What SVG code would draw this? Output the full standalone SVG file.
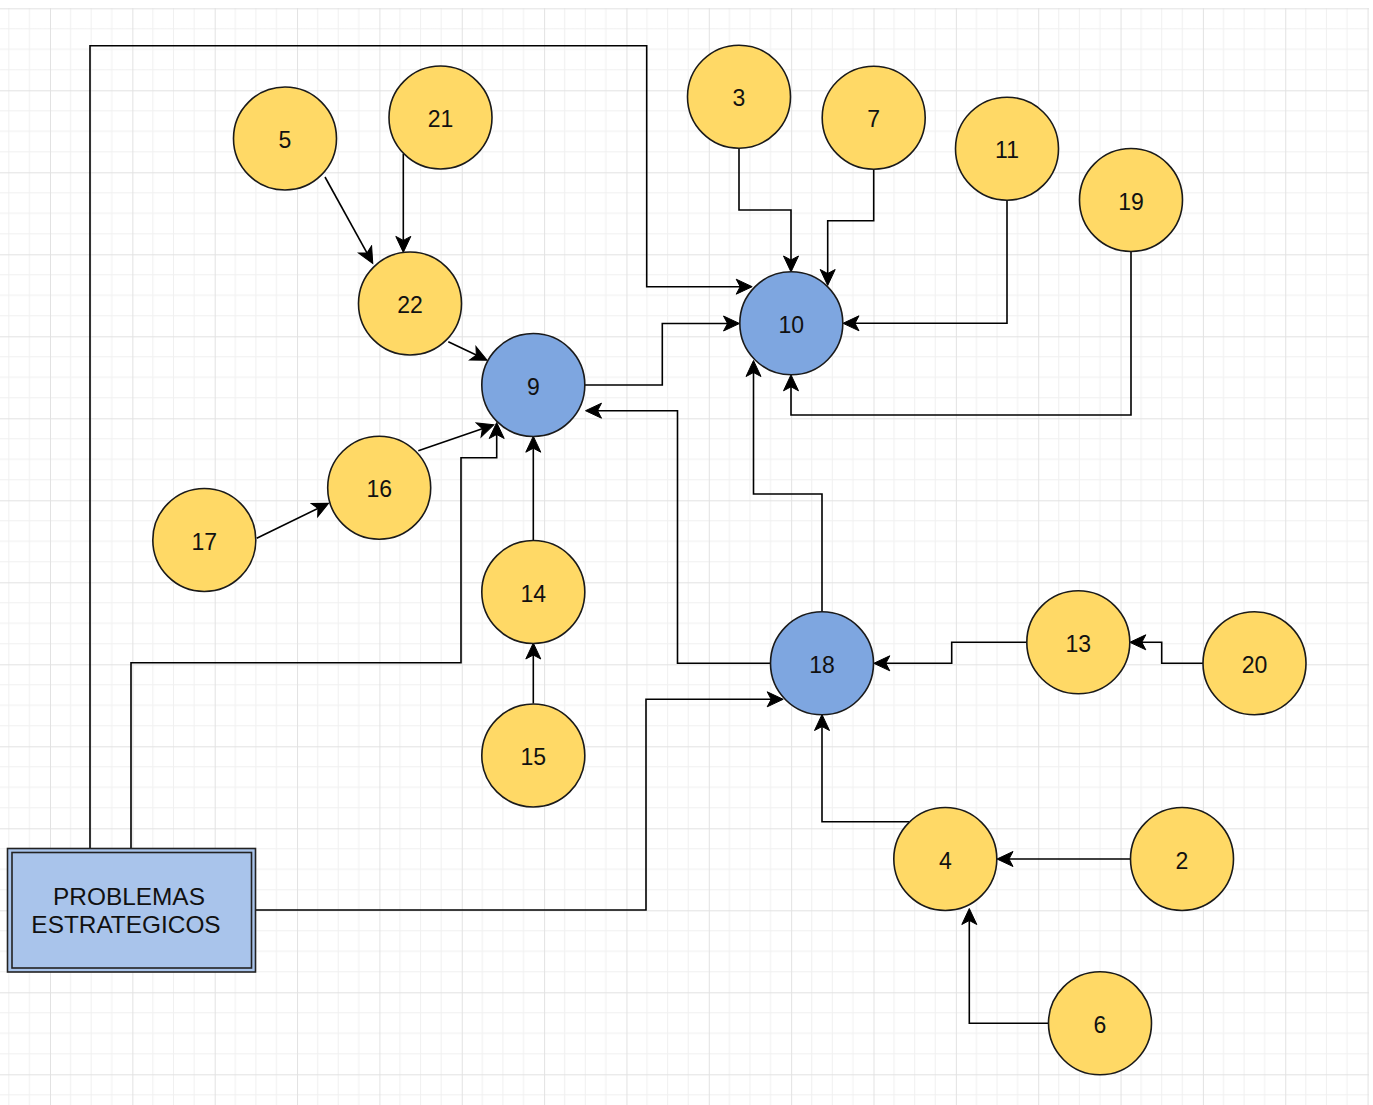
<svg xmlns="http://www.w3.org/2000/svg" width="1373" height="1105" viewBox="0 0 1373 1105">
<style>
.n circle{stroke:#1a1a1a;stroke-width:1.6}
.y circle{fill:#FFD966}
.b circle{fill:#7EA6E0}
text{font-family:"Liberation Sans",Arial,sans-serif;font-size:23px;fill:#111;text-anchor:middle}
text.big{font-size:24.4px}
.e path{fill:none;stroke:#000;stroke-width:1.6}
.mi{stroke:#f0f0f0;stroke-width:1}
.ma{stroke:#e2e2e2;stroke-width:1}
</style>
<defs>
<pattern id="grid" patternUnits="userSpaceOnUse" x="50" y="8.3" width="82.35" height="82">
<line class="mi" x1="20.59" y1="0" x2="20.59" y2="82"/>
<line class="mi" x1="41.18" y1="0" x2="41.18" y2="82"/>
<line class="mi" x1="61.76" y1="0" x2="61.76" y2="82"/>
<line class="mi" x1="0" y1="20.5" x2="82.35" y2="20.5"/>
<line class="mi" x1="0" y1="41" x2="82.35" y2="41"/>
<line class="mi" x1="0" y1="61.5" x2="82.35" y2="61.5"/>
<line class="ma" x1="0.5" y1="0" x2="0.5" y2="82"/>
<line class="ma" x1="0" y1="0.5" x2="82.35" y2="0.5"/>
</pattern>
<marker id="arr" markerUnits="userSpaceOnUse" markerWidth="19" markerHeight="18" refX="12.5" refY="9" orient="auto">
<path d="M17,9 L1,1.5 L5,9 L1,16.5 Z" fill="#000" stroke="#000" stroke-width="1"/>
</marker>
</defs>
<rect x="0" y="0" width="1373" height="1105" fill="#fff"/>
<rect x="0" y="8" width="1369" height="1097" fill="url(#grid)"/>

<g id="connectors" class="e" marker-end="url(#arr)">
<path d="M90,848 V45.7 H646.7 V286.7 H747.7"/>
<path d="M131,848 V662.7 H461 V457.7 H496.7 V427"/>
<path d="M256,910 H646 V699.3 H778.7"/>
<path d="M585,385 H662.3 V323.5 H735"/>
<path d="M770,663.3 H677.5 V410.7 H590"/>
<path d="M822,611.7 V494 H753.5 V365"/>
<path d="M739,148.3 V210 H791 V267.5"/>
<path d="M873.7,169.3 V220.7 H827.7 V281"/>
<path d="M1007,200.7 V323.3 H847.5"/>
<path d="M1131,251.7 V415 H791 V379.3"/>
<path d="M1026.7,642.3 H951.7 V663.3 H878.3"/>
<path d="M1203.3,663.3 H1161.7 V642.3 H1134.3"/>
<path d="M909,821.7 H822 V719"/>
<path d="M1130,859 H1001.5"/>
<path d="M1048.3,1023.3 H969.3 V913"/>
<path d="M533.3,540.5 V440.7"/>
<path d="M533.3,703.5 V647.5"/>
<path d="M403.3,153.8 V247.9"/>
<path d="M325,177 L370.6,259.5"/>
<path d="M448.3,341.7 L483.1,358.3"/>
<path d="M256.7,538.3 L324.7,505.1"/>
<path d="M418.3,450.7 L489.5,426.3"/>
</g>

<g id="box">
<rect x="7.5" y="848.5" width="248" height="123.5" fill="#A9C4EB" stroke="#222" stroke-width="1.6"/>
<rect x="12" y="852.5" width="239.5" height="115.5" fill="none" stroke="#222" stroke-width="1.6"/>
<text class="big" x="129" y="905">PROBLEMAS</text>
<text class="big" x="126" y="933.3">ESTRATEGICOS</text>
</g>

<g id="n5" class="n y"><circle cx="285" cy="138.5" r="51.5"/><text x="285" y="148">5</text></g>
<g id="n21" class="n y"><circle cx="440.5" cy="117.5" r="51.5"/><text x="440.5" y="127">21</text></g>
<g id="n22" class="n y"><circle cx="410" cy="303.5" r="51.5"/><text x="410" y="313">22</text></g>
<g id="n3" class="n y"><circle cx="739" cy="96.7" r="51.5"/><text x="739" y="106.2">3</text></g>
<g id="n7" class="n y"><circle cx="873.7" cy="117.7" r="51.5"/><text x="873.7" y="127.2">7</text></g>
<g id="n11" class="n y"><circle cx="1007" cy="148.7" r="51.5"/><text x="1007" y="158.2">11</text></g>
<g id="n19" class="n y"><circle cx="1131" cy="200" r="51.5"/><text x="1131" y="209.5">19</text></g>
<g id="n10" class="n b"><circle cx="791.3" cy="323.3" r="51.5"/><text x="791.3" y="332.8">10</text></g>
<g id="n9" class="n b"><circle cx="533.3" cy="385" r="51.5"/><text x="533.3" y="394.5">9</text></g>
<g id="n16" class="n y"><circle cx="379.2" cy="487.7" r="51.5"/><text x="379.2" y="497.2">16</text></g>
<g id="n17" class="n y"><circle cx="204.3" cy="540" r="51.5"/><text x="204.3" y="549.5">17</text></g>
<g id="n14" class="n y"><circle cx="533.3" cy="592" r="51.5"/><text x="533.3" y="601.5">14</text></g>
<g id="n15" class="n y"><circle cx="533.3" cy="755.5" r="51.5"/><text x="533.3" y="765">15</text></g>
<g id="n18" class="n b"><circle cx="822" cy="663.3" r="51.5"/><text x="822" y="672.8">18</text></g>
<g id="n13" class="n y"><circle cx="1078.3" cy="642.3" r="51.5"/><text x="1078.3" y="651.8">13</text></g>
<g id="n20" class="n y"><circle cx="1254.5" cy="663.3" r="51.5"/><text x="1254.5" y="672.8">20</text></g>
<g id="n4" class="n y"><circle cx="945.3" cy="859" r="51.5"/><text x="945.3" y="868.5">4</text></g>
<g id="n2" class="n y"><circle cx="1182" cy="859" r="51.5"/><text x="1182" y="868.5">2</text></g>
<g id="n6" class="n y"><circle cx="1100" cy="1023.3" r="51.5"/><text x="1100" y="1032.8">6</text></g>
</svg>
